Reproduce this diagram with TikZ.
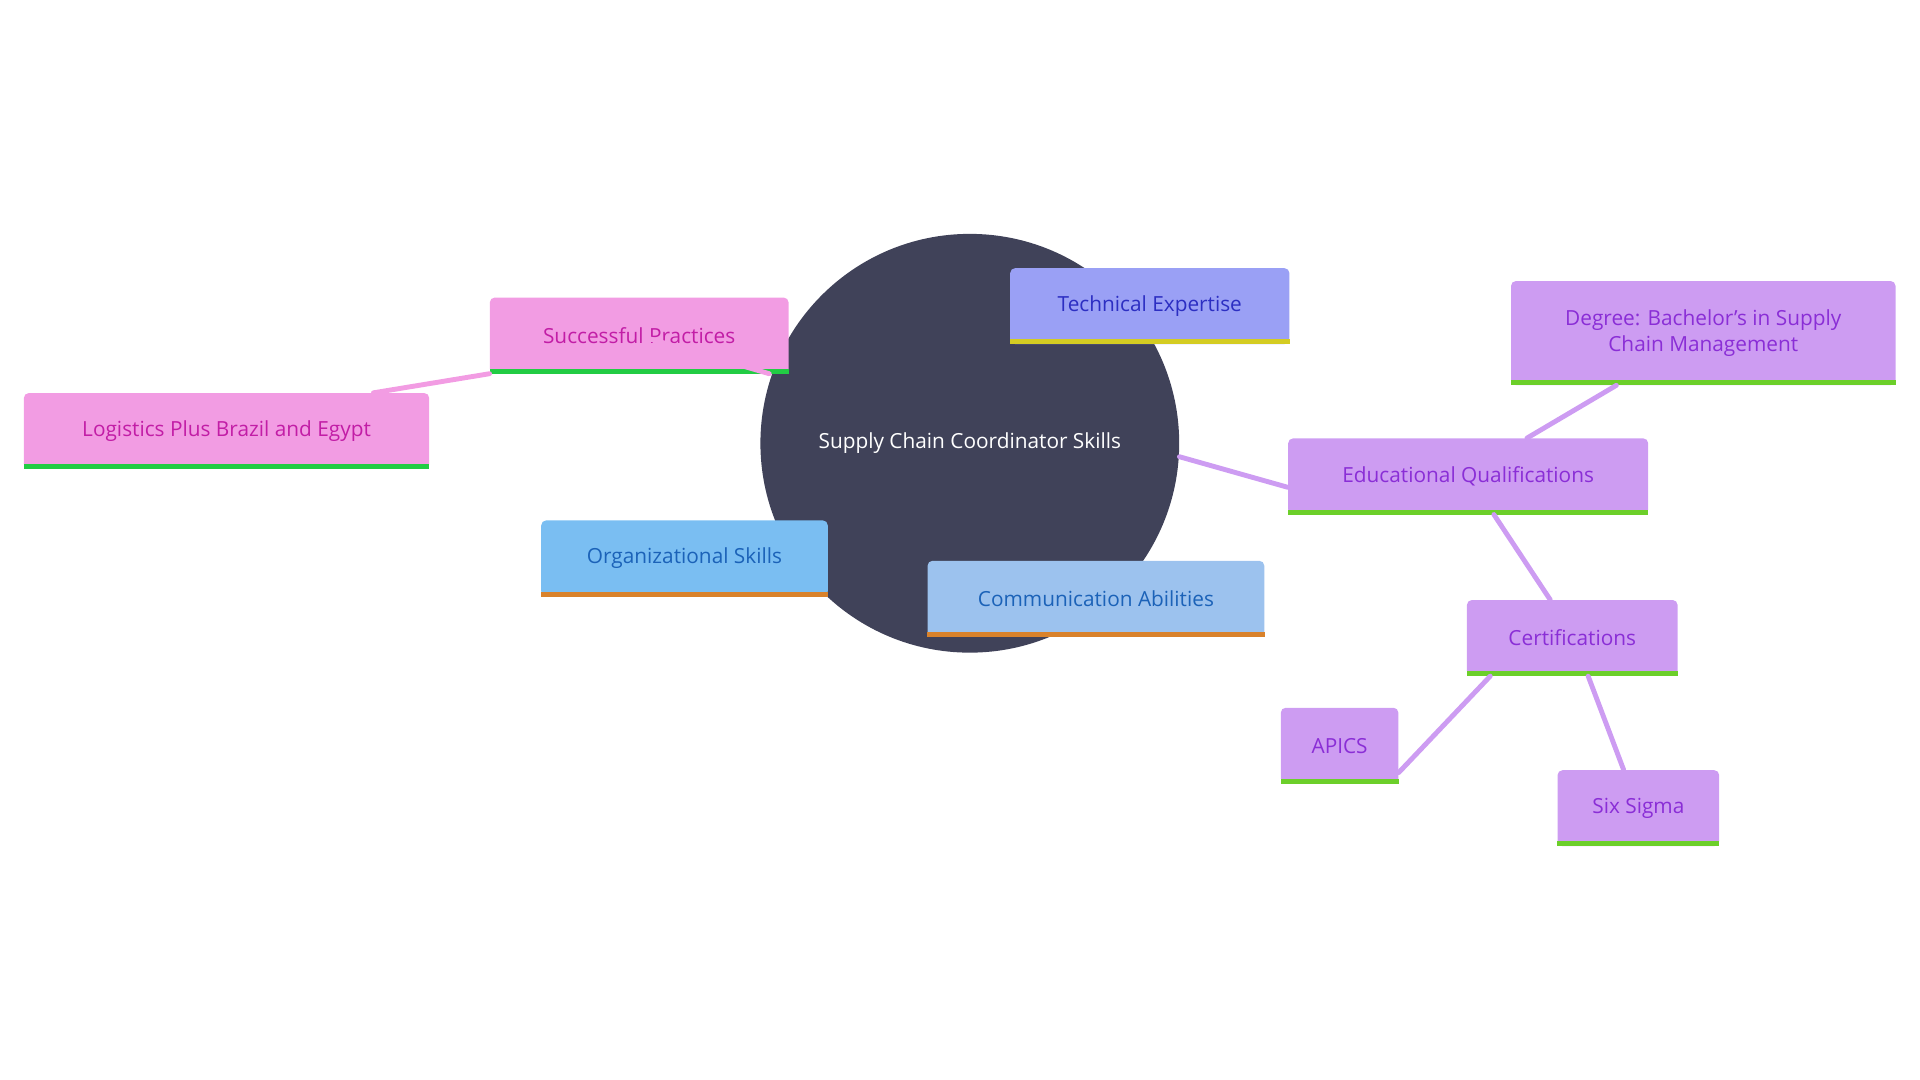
\documentclass[tikz,border=0pt]{standalone}
\usepackage{fontspec}
\setmainfont{Open Sans}
\usetikzlibrary{calc, positioning}
\definecolor{hub}{HTML}{404259}
\definecolor{pinkfill}{HTML}{F29CE3}
\definecolor{pinktext}{HTML}{C21DA6}
\definecolor{purpfill}{HTML}{CD9CF2}
\definecolor{purptext}{HTML}{8A2ED6}
\definecolor{techfill}{HTML}{9AA0F5}
\definecolor{techtext}{HTML}{2C2EC2}
\definecolor{orgfill}{HTML}{7ABEF2}
\definecolor{comfill}{HTML}{9CC2EE}
\definecolor{bluetext}{HTML}{1B62B8}
\definecolor{greenbar}{HTML}{22CC44}
\definecolor{limebar}{HTML}{6CCF2A}
\definecolor{yellowbar}{HTML}{D4CC22}
\definecolor{orangebar}{HTML}{D9822B}
\begin{document}
\begin{tikzpicture}[x=1pt, y=-1pt, font=\fontsize{17}{21}\selectfont]
        \useasboundingbox (0,0) rectangle (1568,882);
        \tikzset{
            box/.style={rounded corners=4pt, minimum height=62, inner sep=0, align=center},
            pinkbox/.style={box, fill=pinkfill, text=pinktext},
            purpbox/.style={box, fill=purpfill, text=purptext},
            link/.style={line width=4, line cap=round},
        }

        % hub
        \node [circle, fill=hub, minimum size=342, text=white] (hub) at (792,362) {Supply Chain Coordinator Skills};

        % boxes
        \node [pinkbox, minimum width=244] (sp) at (522,274) {Successful Practices};
        \node [pinkbox, minimum width=331] (lp) at (185,352) {Logistics Plus Brazil and Egypt};
        \node [box, fill=techfill, text=techtext, minimum width=228] (te) at (939,250) {Technical Expertise};
        \node [box, fill=orgfill, text=bluetext, minimum width=234] (os) at (559,456) {Organizational Skills};
        \node [box, fill=comfill, text=bluetext, minimum width=275] (ca) at (895,489) {Communication Abilities};
        \node [purpbox, minimum width=294] (eq) at (1199,389) {Educational Qualifications};
        \node [purpbox, minimum width=314, minimum height=85] (dg) at (1391,272) {Degree: Bachelor's in Supply\\Chain Management};
        \node [purpbox, minimum width=172] (ce) at (1284,521) {Certifications};
        \node [purpbox, minimum width=96] (ap) at (1094,609) {APICS};
        \node [purpbox, minimum width=132] (ss) at (1338,660) {Six Sigma};

        % bottom bars
        \foreach \n/\c in {sp/greenbar, lp/greenbar, te/yellowbar, os/orangebar, ca/orangebar,
                           eq/limebar, dg/limebar, ce/limebar, ap/limebar, ss/limebar}{
            \fill [\c] ($(\n.south west)+(0,-4)$) rectangle (\n.south east);
        }

        % links
        \begin{scope}[on background layer/.try]
        \end{scope}
        \draw [link, pinkfill] (sp.south west) -- ([xshift=120]lp.north);
        \draw [link, pinkfill] ([xshift=-16]sp.south east) -- ($(hub)!0.98!(sp)$);
        \draw [link, purpfill] ($(hub.east)+(0,11)$) -- ([yshift=-9]eq.west);
        \draw [link, purpfill] ([xshift=48]eq.north) -- ([xshift=-71]dg.south);
        \draw [link, purpfill] ([xshift=21]eq.south) -- ([xshift=-18]ce.north);
        \draw [link, purpfill] ([xshift=-67]ce.south) -- ([yshift=-22]ap.east);
        \draw [link, purpfill] ([xshift=13]ce.south) -- ([xshift=-12]ss.north);
\end{tikzpicture}
\end{document}
